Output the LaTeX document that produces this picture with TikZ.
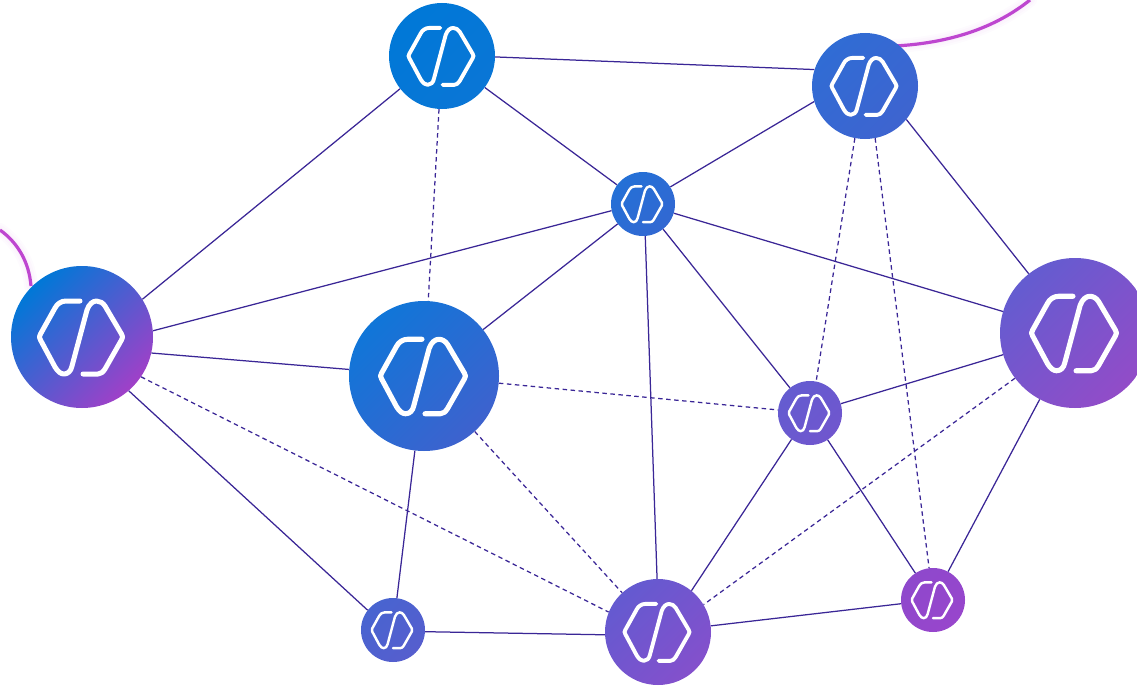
\documentclass[tikz,border=0pt]{standalone}
\usetikzlibrary{calc}
\definecolor{edgecol}{RGB}{58,38,150}
\definecolor{curvecol}{RGB}{190,70,208}
\definecolor{aTop}{RGB}{0,120,215}\definecolor{bTop}{RGB}{10,118,214}
\definecolor{aTr}{RGB}{48,108,212}\definecolor{bTr}{RGB}{62,100,208}
\definecolor{aHub}{RGB}{36,112,214}\definecolor{bHub}{RGB}{50,104,210}
\definecolor{aLeft}{RGB}{0,120,215}\definecolor{bLeft}{RGB}{160,64,200}
\definecolor{aMid}{RGB}{16,118,216}\definecolor{bMid}{RGB}{62,98,206}
\definecolor{aRight}{RGB}{100,92,208}\definecolor{bRight}{RGB}{146,76,200}
\definecolor{aS}{RGB}{100,92,208}\definecolor{bS}{RGB}{112,86,206}
\definecolor{aBl}{RGB}{72,100,208}\definecolor{bBl}{RGB}{86,94,206}
\definecolor{aBot}{RGB}{100,90,208}\definecolor{bBot}{RGB}{132,80,204}
\definecolor{aBr}{RGB}{142,72,204}\definecolor{bBr}{RGB}{152,70,204}
\newcommand{\nodeicon}[2]{%
  \begin{scope}[shift={(#1)},xshift=-1pt,x=#2*1pt,y=-#2*1pt,line width=#2*5pt,line cap=round,line join=round]
    \draw[white] (-1,-36) -- (-15,-36) .. controls (-20,-36) and (-24,-33) .. (-26,-29) -- (-40.5,-3) .. controls (-42,-1) and (-42,1) .. (-40.5,3) -- (-26,30) .. controls (-23,35) and (-20,37) .. (-17,37) .. controls (-13,37) and (-10,34) .. (-9,29) -- (6,-27) .. controls (8,-33) and (12,-36) .. (15.5,-36) .. controls (19,-36) and (22,-34) .. (24,-31) -- (40.5,-3) .. controls (42,-1) and (42,1) .. (40.5,3) -- (24,32) .. controls (22,35) and (20,37) .. (17,37) -- (2,37);
  \end{scope}}
\tikzset{
  net/.style={draw=edgecol,line width=1.25pt},
  netdash/.style={net,dash pattern=on 4.5pt off 3.5pt},
  hubnode/.style n args={3}{circle,inner sep=0pt,minimum size=#1pt,left color=#2,right color=#3,shading angle=45,draw=none},
  tail/.style={draw=curvecol,line width=3.2pt},
  tailglow/.style={draw=curvecol,opacity=.025,line width=#1pt,line cap=round}
}
\begin{document}
\begin{tikzpicture}[x=1pt,y=-1pt]
\useasboundingbox (0,0) rectangle (1137,685);
\coordinate (ca) at (0,230);
\coordinate (cb) at (31,286);
\coordinate (cc) at (895,46);
\coordinate (cd) at (1030,0);
\foreach \w in {14,10,6}{
  \draw[tailglow=\w] (ca) .. controls (18,243) and (29,262) .. (cb);
  \draw[tailglow=\w] (cc) .. controls (950,43) and (995,28) .. (cd);
}
\draw[tail] (ca) .. controls (18,243) and (29,262) .. (cb);
\draw[tail] (cc) .. controls (950,43) and (995,28) .. (cd);
\node[hubnode={106}{aTop}{bTop}] (top) at (442,56) {};
\node[hubnode={106}{aTr}{bTr}] (tr) at (865,86) {};
\node[hubnode={64}{aHub}{bHub}] (hub) at (643,204) {};
\node[hubnode={142}{aLeft}{bLeft}] (left) at (82,337) {};
\node[hubnode={150}{aMid}{bMid}] (mid) at (424,376) {};
\node[hubnode={150}{aRight}{bRight}] (right) at (1075,333) {};
\node[hubnode={64}{aS}{bS}] (s) at (810,413) {};
\node[hubnode={64}{aBl}{bBl}] (bl) at (393,630) {};
\node[hubnode={106}{aBot}{bBot}] (bot) at (658,632) {};
\node[hubnode={64}{aBr}{bBr}] (br) at (933,600) {};
\foreach \a/\b in {top.-1/tr.162,top/hub,top.218/left.32.8,tr.197/hub.32.6,tr.-39.5/right.128.4,hub.192.7/left.5.7,hub/mid,hub.-86.4/bot.91,hub/s,hub/right,left.-13.2/mid.175.4,left.-49/bl.142,mid/bl,right/s,right/br,s.235/bot.51.3,s/br,bl.-3.7/bot.183.2,bot/br}
  \draw[net] (\a) -- (\b);
\foreach \a/\b in {top/mid,tr.259.3/s.79,tr.-79.3/br.97.1,mid/s,mid/bot,left.-34.6/bot.158.2,right.217.3/bot.31.9}
  \draw[netdash] (\a) -- (\b);
\nodeicon{top}{.78}
\nodeicon{tr}{.78}
\nodeicon{hub}{.49}
\nodeicon{left}{1}
\nodeicon{mid}{1.02}
\nodeicon{right}{1.02}
\nodeicon{s}{.49}
\nodeicon{bl}{.49}
\nodeicon{bot}{.78}
\nodeicon{br}{.49}
\end{tikzpicture}
\end{document}
